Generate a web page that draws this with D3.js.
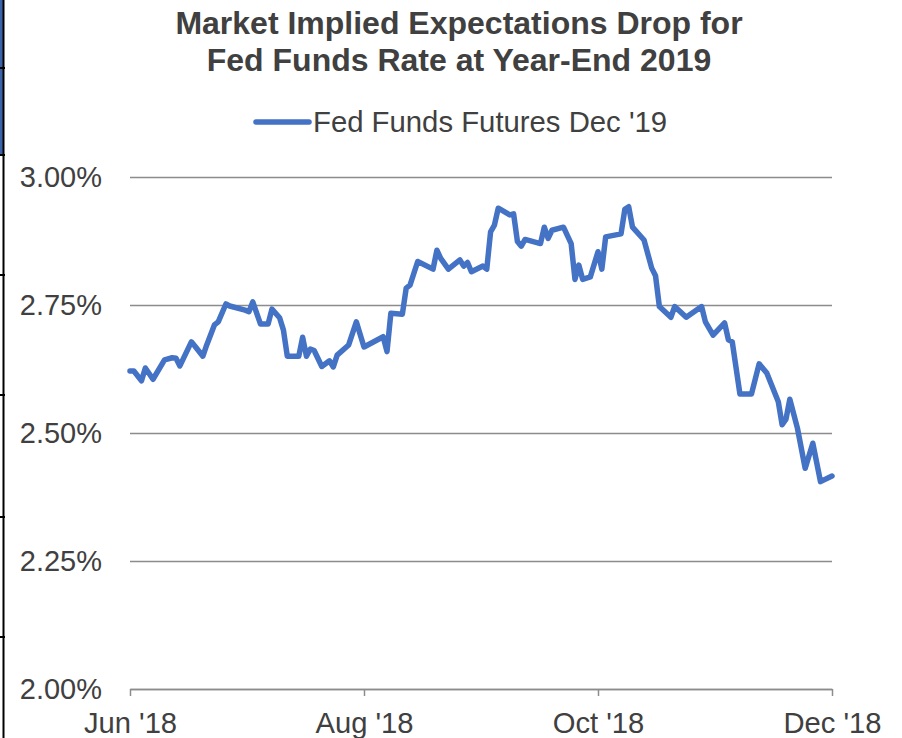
<!DOCTYPE html>
<html>
<head>
<meta charset="utf-8">
<script src="https://cdn.jsdelivr.net/npm/d3@7"></script>
<style>
  body { margin: 0; background: #fff; }
  svg text { font-family: "Liberation Sans", Arial, sans-serif; fill: #404040; }
</style>
</head>
<body>
<div id="chart"></div>
<script>
// values
var dates = [
  "2018-06-01","2018-06-02","2018-06-04","2018-06-05","2018-06-07","2018-06-10","2018-06-12","2018-06-13",
  "2018-06-14","2018-06-17","2018-06-18","2018-06-20","2018-06-21","2018-06-23","2018-06-24","2018-06-26",
  "2018-06-27","2018-07-01","2018-07-02","2018-07-03","2018-07-05","2018-07-07","2018-07-08","2018-07-10",
  "2018-07-11","2018-07-12","2018-07-15","2018-07-16","2018-07-17","2018-07-18","2018-07-19","2018-07-21",
  "2018-07-23","2018-07-24","2018-07-25","2018-07-28","2018-07-30","2018-08-01","2018-08-06","2018-08-07",
  "2018-08-08","2018-08-11","2018-08-12","2018-08-13","2018-08-15","2018-08-19","2018-08-20","2018-08-21",
  "2018-08-23","2018-08-26","2018-08-27","2018-08-28","2018-08-29","2018-09-01","2018-09-02","2018-09-03",
  "2018-09-04","2018-09-05","2018-09-08","2018-09-09","2018-09-10","2018-09-11","2018-09-12","2018-09-16",
  "2018-09-17","2018-09-18","2018-09-19","2018-09-22","2018-09-24","2018-09-25","2018-09-26","2018-09-27",
  "2018-09-29","2018-10-01","2018-10-02","2018-10-03","2018-10-07","2018-10-08","2018-10-09","2018-10-10",
  "2018-10-13","2018-10-15","2018-10-16","2018-10-17","2018-10-20","2018-10-21","2018-10-24","2018-10-28",
  "2018-10-29","2018-10-31","2018-11-03","2018-11-04","2018-11-05","2018-11-07","2018-11-10","2018-11-12",
  "2018-11-14","2018-11-17","2018-11-18","2018-11-19","2018-11-20","2018-11-22","2018-11-24","2018-11-26",
  "2018-11-28","2018-12-01"
];
var rates = [
  2.621,2.621,2.602,2.627,2.605,2.643,2.647,2.646,
  2.631,2.678,2.669,2.650,2.672,2.711,2.717,2.752,
  2.748,2.740,2.737,2.756,2.713,2.713,2.742,2.725,
  2.701,2.650,2.650,2.687,2.650,2.664,2.661,2.630,
  2.641,2.629,2.652,2.672,2.717,2.668,2.688,2.659,
  2.734,2.732,2.783,2.789,2.835,2.820,2.857,2.841,
  2.820,2.838,2.826,2.833,2.815,2.826,2.820,2.893,
  2.906,2.939,2.926,2.928,2.874,2.865,2.878,2.870,
  2.902,2.880,2.896,2.902,2.870,2.800,2.828,2.800,
  2.805,2.854,2.820,2.883,2.889,2.937,2.942,2.902,
  2.877,2.822,2.807,2.747,2.726,2.747,2.726,2.747,
  2.717,2.691,2.715,2.682,2.678,2.576,2.576,2.635,
  2.617,2.561,2.516,2.527,2.566,2.509,2.431,2.480,
  2.405,2.416
];
var yTicks = [2.00, 2.25, 2.50, 2.75, 3.00];
var xTicks = ["2018-06-01", "2018-08-01", "2018-10-01", "2018-12-01"];
var seriesName = "Fed Funds Futures Dec '19";
var titleLines = ["Market Implied Expectations Drop for", "Fed Funds Rate at Year-End 2019"];

var width = 902;
var height = 738;
var plotLeft = 130, plotRight = 832, plotTop = 177, plotBottom = 689;
var lineColor = "#4472C4";
var gridColor = "#8c8c8c";

var parse = d3.timeParse("%Y-%m-%d");
var data = dates.map(function (d, i) { return { date: parse(d), value: rates[i] }; });

var svg = d3.select("#chart").append("svg")
    .attr("width", width)
    .attr("height", height);

// left edge of the source screenshot
svg.append("rect").attr("x", 0).attr("y", 0).attr("width", 3).attr("height", 155).attr("fill", "#3a63a8");
svg.append("line").attr("x1", 3.5).attr("x2", 3.5).attr("y1", 0).attr("y2", height)
    .attr("stroke", "#000").attr("stroke-width", 2);
[68, 155, 275, 395, 517, 637].forEach(function (yy) {
    svg.append("line").attr("x1", 0).attr("x2", 5).attr("y1", yy).attr("y2", yy)
        .attr("stroke", "#000").attr("stroke-width", 2);
});

var x = d3.scaleTime()
    .domain([parse(xTicks[0]), parse(xTicks[xTicks.length - 1])])
    .range([plotLeft, plotRight]);

var y = d3.scaleLinear()
    .domain([2.0, 3.0])
    .range([plotBottom, plotTop]);

// title
svg.append("text")
    .attr("text-anchor", "middle")
    .style("font-weight", "bold")
    .style("font-size", "32px")
    .selectAll("tspan")
    .data(titleLines)
    .enter().append("tspan")
    .attr("x", 459)
    .attr("y", function (d, i) { return 34 + i * 36.5; })
    .text(function (d) { return d; });

// legend
svg.append("line")
    .attr("x1", 256).attr("x2", 309).attr("y1", 122).attr("y2", 122)
    .attr("stroke", lineColor).attr("stroke-width", 5.5).attr("stroke-linecap", "round");
svg.append("text")
    .attr("x", 313).attr("y", 131.5)
    .style("font-size", "29.3px")
    .text(seriesName);

// y axis + gridlines
var yAxis = svg.append("g")
    .attr("transform", "translate(" + plotLeft + ",0)")
    .call(d3.axisLeft(y)
        .tickValues(yTicks)
        .tickSize(-(plotRight - plotLeft))
        .tickPadding(28)
        .tickFormat(function (d) { return d.toFixed(2) + "%"; }));
yAxis.select(".domain").remove();
yAxis.selectAll(".tick line").attr("stroke", gridColor).attr("stroke-width", 1.5);
yAxis.selectAll(".tick text")
    .attr("fill", "#404040")
    .attr("dy", "0.34em")
    .style("font-size", "29px")
    .style("font-family", "'Liberation Sans', Arial, sans-serif");

// x axis
var xAxis = svg.append("g")
    .attr("transform", "translate(0," + plotBottom + ")")
    .call(d3.axisBottom(x)
        .tickValues(xTicks.map(parse))
        .tickSize(7)
        .tickSizeOuter(0)
        .tickPadding(16)
        .tickFormat(d3.timeFormat("%b '%y")));
xAxis.select(".domain").attr("stroke", gridColor).attr("stroke-width", 1.5);
xAxis.selectAll(".tick line").attr("stroke", gridColor).attr("stroke-width", 1.5);
xAxis.selectAll(".tick text")
    .attr("fill", "#404040")
    .style("font-size", "29.2px")
    .style("font-family", "'Liberation Sans', Arial, sans-serif");

// series
var line = d3.line()
    .x(function (d) { return x(d.date); })
    .y(function (d) { return y(d.value); });

svg.append("path")
    .datum(data)
    .attr("d", line)
    .attr("fill", "none")
    .attr("stroke", lineColor)
    .attr("stroke-width", 5.5)
    .attr("stroke-linejoin", "round")
    .attr("stroke-linecap", "round");
</script>
</body>
</html>
